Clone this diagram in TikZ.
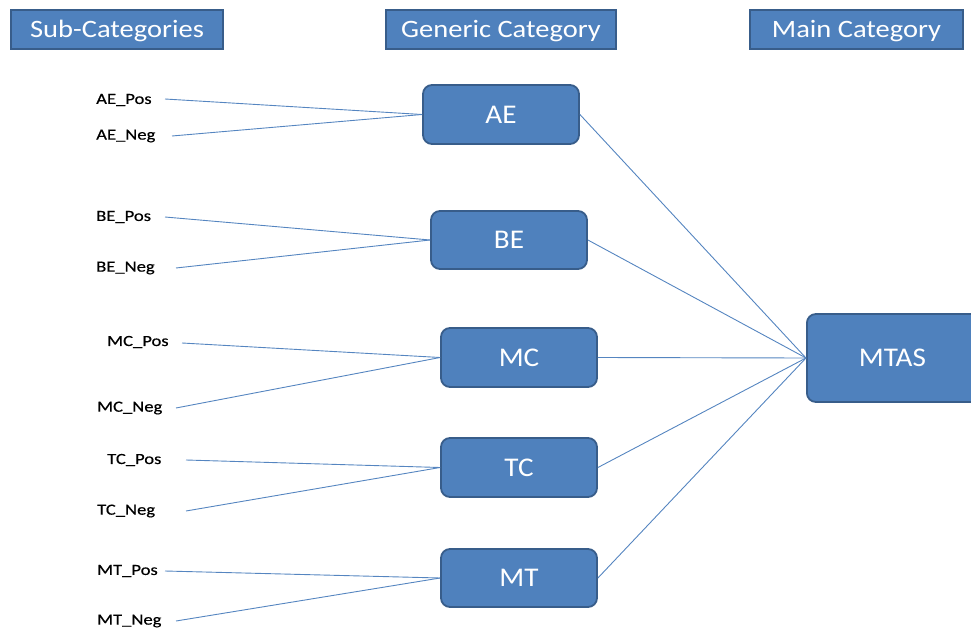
\documentclass[tikz,border=0pt]{standalone}
\usepackage{fontspec}
\setmainfont{Carlito}
\newfontfamily\hdrfont[FakeStretch=1.14]{Carlito}
\newfontfamily\boxfont[FakeStretch=1.08]{Carlito}
\newfontfamily\lblfont[FakeStretch=1.2,FakeBold=0.4]{Carlito}
\definecolor{boxfill}{HTML}{4F81BD}
\definecolor{boxedge}{HTML}{385D8A}
\definecolor{linkcol}{HTML}{5585C0}
\tikzset{
  header/.style={draw=boxedge, line width=1.6pt, fill=boxfill, text=white,
    font=\hdrfont\fontsize{25}{29}\selectfont, inner sep=0pt,
    text height=17pt, text depth=0pt},
  catbox/.style={draw=boxedge, line width=1.8pt, fill=boxfill, text=white,
    rounded corners=9pt, font=\boxfont\fontsize{27}{31}\selectfont, inner sep=0pt},
  sublabel/.style={anchor=west, inner sep=0pt, text=black,
    font=\lblfont\fontsize{15.5}{18}\selectfont},
  link/.style={draw=linkcol, line width=0.9pt},
}
\begin{document}
\begin{tikzpicture}[x=1pt, y=-1pt]
\useasboundingbox (0,0) rectangle (971,631);
\clip (0,0) rectangle (971,631);

% column headers
\node[header, minimum width=212pt, minimum height=39pt] (hsub) at (117,29.5) {Sub-Categories};
\node[header, minimum width=230pt, minimum height=39pt] (hgen) at (501,29.5) {Generic Category};
\node[header, minimum width=213pt, minimum height=39pt] (hmain) at (856.5,29.5) {Main Category};

% generic categories
\node[catbox, minimum width=156pt, minimum height=59pt] (ae) at (501,114.5) {AE};
\node[catbox, minimum width=156pt, minimum height=58pt] (be) at (509,240) {BE};
\node[catbox, minimum width=156pt, minimum height=59pt] (mc) at (519,357.5) {MC};
\node[catbox, minimum width=156pt, minimum height=59pt] (tc) at (519,467.5) {TC};
\node[catbox, minimum width=156pt, minimum height=58pt] (mt) at (519,578) {MT};

% main category
\node[catbox, minimum width=180pt, minimum height=88pt, anchor=west] (mtas) at (806,358) {\hspace*{-9pt}MTAS};

% sub-category labels
\node[sublabel] (aepos) at (96,100) {AE\_Pos};
\node[sublabel] (aeneg) at (96,136) {AE\_Neg};
\node[sublabel] (bepos) at (96,217) {BE\_Pos};
\node[sublabel] (beneg) at (96,268) {BE\_Neg};
\node[sublabel] (mcpos) at (107,342) {MC\_Pos};
\node[sublabel] (mcneg) at (97,408) {MC\_Neg};
\node[sublabel] (tcpos) at (107,460) {TC\_Pos};
\node[sublabel] (tcneg) at (97,511) {TC\_Neg};
\node[sublabel] (mtpos) at (97,571) {MT\_Pos};
\node[sublabel] (mtneg) at (97,621) {MT\_Neg};

% start points of the sub-category links
\coordinate (aeposx) at (165,99);
\coordinate (aenegx) at (172,136);
\coordinate (beposx) at (165,217);
\coordinate (benegx) at (176,268);
\coordinate (mcposx) at (182,343);
\coordinate (mcnegx) at (176,408);
\coordinate (tcposx) at (186,460);
\coordinate (tcnegx) at (186,511);
\coordinate (mtposx) at (165,571);
\coordinate (mtnegx) at (176,621);

% sub-category to generic category
\draw[link] (aeposx) -- (ae.west);
\draw[link] (aenegx) -- (ae.west);
\draw[link] (beposx) -- (be.west);
\draw[link] (benegx) -- (be.west);
\draw[link] (mcposx) -- (mc.west);
\draw[link] (mcnegx) -- (mc.west);
\draw[link] (tcposx) -- (tc.west);
\draw[link] (tcnegx) -- (tc.west);
\draw[link] (mtposx) -- (mt.west);
\draw[link] (mtnegx) -- (mt.west);

% generic category to main category
\draw[link] (ae.east) -- (mtas.west);
\draw[link] (be.east) -- (mtas.west);
\draw[link] (mc.east) -- (mtas.west);
\draw[link] (tc.east) -- (mtas.west);
\draw[link] (mt.east) -- (mtas.west);
\end{tikzpicture}
\end{document}
